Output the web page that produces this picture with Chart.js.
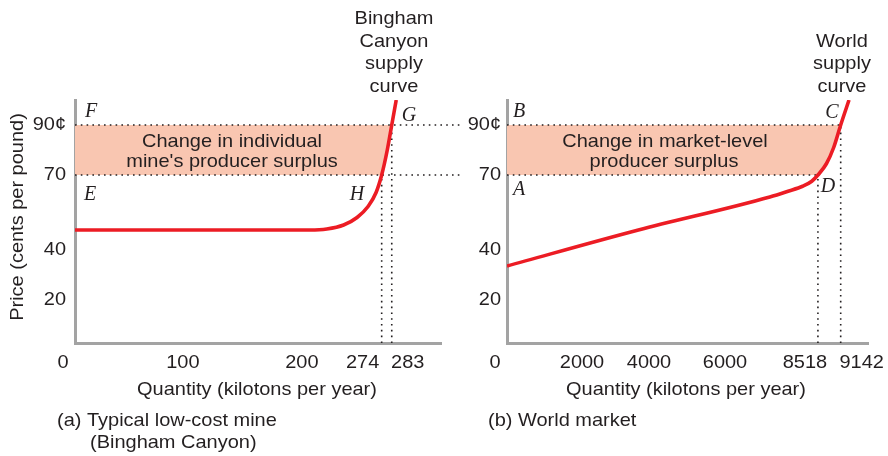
<!DOCTYPE html>
<html>
<head>
<meta charset="utf-8">
<script src="https://cdn.jsdelivr.net/npm/chart.js@4.4.1/dist/chart.umd.min.js"></script>
<style>
  html, body { margin: 0; padding: 0; background: #ffffff; }
  #wrap { position: relative; width: 888px; height: 456px; background: #ffffff; }
  #wrap canvas { position: absolute; left: 0; top: 0; }
</style>
</head>
<body>
<div id="wrap">
  <canvas id="left" width="888" height="456"></canvas>
  <canvas id="right" width="888" height="456"></canvas>
</div>
<script>
// ---------------- DATA ----------------
// Panel (a): typical low-cost mine (Bingham Canyon)
const mineQty   = [0, 210, 225, 240, 252, 262, 269, 274, 279, 283, 287];
const minePrice = [48, 48, 48.4, 50, 53, 57.5, 63, 70, 80, 90, 100];
const mineXTicks = [0, 100, 200, 274, 283];
// Panel (b): world market
const worldQty   = [0, 3600, 7200, 7700, 8100, 8350, 8518, 8750, 8950, 9142, 9370];
const worldPrice = [33.6, 48, 61.2, 63.5, 65.5, 67.5, 70, 74.5, 81, 90, 100];
const worldXTicks = [0, 2000, 4000, 6000, 8518, 9142];
// Shared
const priceTicks = [20, 40, 70, 90];
const priceTickLabels = ['20', '40', '70', '90¢'];
const oldPrice = 70;
const newPrice = 90;
const mineQOld = 274, mineQNew = 283;
const worldQOld = 8518, worldQNew = 9142;

// ---------------- STYLE / LAYOUT ----------------
const RED = '#ec1c24';
const SHADE = '#f9c6b1';
const DOT = '#231f20';
const AXIS = '#a3a3a3';
const TXT = '#231f20';
const SANS = '"Liberation Sans", Arial, sans-serif';
const SERIF = '"Liberation Serif", "Times New Roman", serif';
const YMIN = 2.8, YMAX = 100;

const mineTickOffsets  = [-12, -4, 3, -19, 16];
const worldTickOffsets = [-12, 2, -4, -1, -13, 21];

function pts(xs, ys) { return xs.map((x, i) => ({ x: x, y: ys[i] })); }

function txt(ctx, s, x, y, o) {
  o = o || {};
  ctx.save();
  ctx.translate(x, y);
  if (o.rot) ctx.rotate(o.rot);
  ctx.scale(o.sx === undefined ? 1.08 : o.sx, 1);
  ctx.font = o.font || ('18.5px ' + SANS);
  ctx.fillStyle = TXT;
  ctx.textAlign = o.align || 'center';
  ctx.textBaseline = 'middle';
  ctx.fillText(s, 0, 0);
  ctx.restore();
}
function letter(ctx, s, x, y) {
  txt(ctx, s, x, y, { sx: 1, font: 'italic 20px ' + SERIF });
}

function dotted(data, extra) {
  return Object.assign({
    data: data, borderColor: DOT, borderWidth: 1.6, borderDash: [1.6, 4.2],
    pointRadius: 0, fill: false, tension: 0, order: 2
  }, extra || {});
}

function buildDatasets(qs, ps, qOld, qNew, xLeftEnd) {
  // shaded producer-surplus area, bounded by the supply curve between old and new price
  const poly = [{ x: 0, y: oldPrice }];
  qs.forEach((q, i) => { if (ps[i] >= oldPrice && ps[i] <= newPrice) poly.push({ x: q, y: ps[i] }); });
  poly.push({ x: 0, y: newPrice });
  return [
    { data: pts(qs, ps), borderColor: RED, borderWidth: 3.6, pointRadius: 0,
      cubicInterpolationMode: 'monotone', fill: false, order: 0 },
    dotted([{ x: 0, y: newPrice }, { x: xLeftEnd === undefined ? qNew : xLeftEnd, y: newPrice }], { clip: false }),
    dotted([{ x: 0, y: oldPrice }, { x: xLeftEnd === undefined ? qOld : xLeftEnd, y: oldPrice }], { clip: false }),
    dotted([{ x: qOld, y: YMIN }, { x: qOld, y: oldPrice }]),
    dotted([{ x: qNew, y: YMIN }, { x: qNew, y: newPrice }]),
    { data: poly, borderWidth: 0, borderColor: 'rgba(0,0,0,0)', backgroundColor: SHADE,
      pointRadius: 0, fill: 'shape', tension: 0, order: 5 }
  ];
}

function baseOptions(xMax, pad, plugin) {
  return {
    type: 'line',
    options: {
      responsive: false, animation: false, devicePixelRatio: 1,
      layout: { padding: pad },
      plugins: { legend: { display: false }, tooltip: { enabled: false } },
      events: [],
      scales: {
        x: { type: 'linear', min: 0, max: xMax,
             grid: { display: false }, ticks: { display: false },
             border: { display: true, color: AXIS, width: 3 },
             afterFit: s => { s.height = 0; } },
        y: { type: 'linear', min: YMIN, max: YMAX,
             grid: { display: false }, ticks: { display: false },
             border: { display: true, color: AXIS, width: 3 },
             afterFit: s => { s.width = 0; } }
      }
    },
    plugins: [plugin]
  };
}

// ---------------- LEFT PANEL ----------------
const leftPlugin = {
  id: 'leftText',
  afterDraw(chart) {
    const ctx = chart.ctx, xs = chart.scales.x, ys = chart.scales.y;
    // y ticks
    priceTicks.forEach((v, i) => txt(ctx, priceTickLabels[i], 66, ys.getPixelForValue(v), { align: 'right' }));
    // x ticks
    mineXTicks.forEach((v, i) => txt(ctx, String(v), xs.getPixelForValue(v) + mineTickOffsets[i], 363));
    // titles
    txt(ctx, 'Price (cents per pound)', 18, 217, { rot: -Math.PI / 2 });
    txt(ctx, 'Quantity (kilotons per year)', 257, 390);
    txt(ctx, '(a) Typical low-cost mine', 57, 421, { align: 'left' });
    txt(ctx, '(Bingham Canyon)', 90, 443, { align: 'left' });
    // shaded area label
    txt(ctx, 'Change in individual', 232, 142);
    txt(ctx, "mine's producer surplus", 232, 162);
    // curve label
    ['Bingham', 'Canyon', 'supply', 'curve'].forEach((s, i) => txt(ctx, s, 394, 19 + i * 22.5));
    // point letters
    letter(ctx, 'F', 91, 112);
    letter(ctx, 'E', 90, 195);
    letter(ctx, 'H', 357, 195);
    letter(ctx, 'G', 409, 116);
  }
};
const leftCfg = baseOptions(327, { left: 75, top: 100, right: 888 - 441, bottom: 456 - 343 }, leftPlugin);
leftCfg.data = { datasets: buildDatasets(mineQty, minePrice, mineQOld, mineQNew, 345) };
// vertical dotted + shading keep curve endpoints; horizontal dotted extend toward right panel
new Chart(document.getElementById('left'), leftCfg);

// ---------------- RIGHT PANEL ----------------
const rightPlugin = {
  id: 'rightText',
  afterDraw(chart) {
    const ctx = chart.ctx, xs = chart.scales.x, ys = chart.scales.y;
    priceTicks.forEach((v, i) => txt(ctx, priceTickLabels[i], 501, ys.getPixelForValue(v), { align: 'right' }));
    worldXTicks.forEach((v, i) => txt(ctx, String(v), xs.getPixelForValue(v) + worldTickOffsets[i], 363));
    txt(ctx, 'Quantity (kilotons per year)', 686, 390);
    txt(ctx, '(b) World market', 488, 421, { align: 'left' });
    txt(ctx, 'Change in market-level', 665, 142);
    txt(ctx, 'producer surplus', 664, 162);
    ['World', 'supply', 'curve'].forEach((s, i) => txt(ctx, s, 842, 41.5 + i * 22.5));
    letter(ctx, 'B', 519, 112);
    letter(ctx, 'A', 519, 190);
    letter(ctx, 'C', 832, 113);
    letter(ctx, 'D', 828, 187);
  }
};
const rightCfg = baseOptions(9890, { left: 507, top: 100, right: 888 - 868, bottom: 456 - 343 }, rightPlugin);
rightCfg.data = { datasets: buildDatasets(worldQty, worldPrice, worldQOld, worldQNew) };
new Chart(document.getElementById('right'), rightCfg);
</script>
</body>
</html>
